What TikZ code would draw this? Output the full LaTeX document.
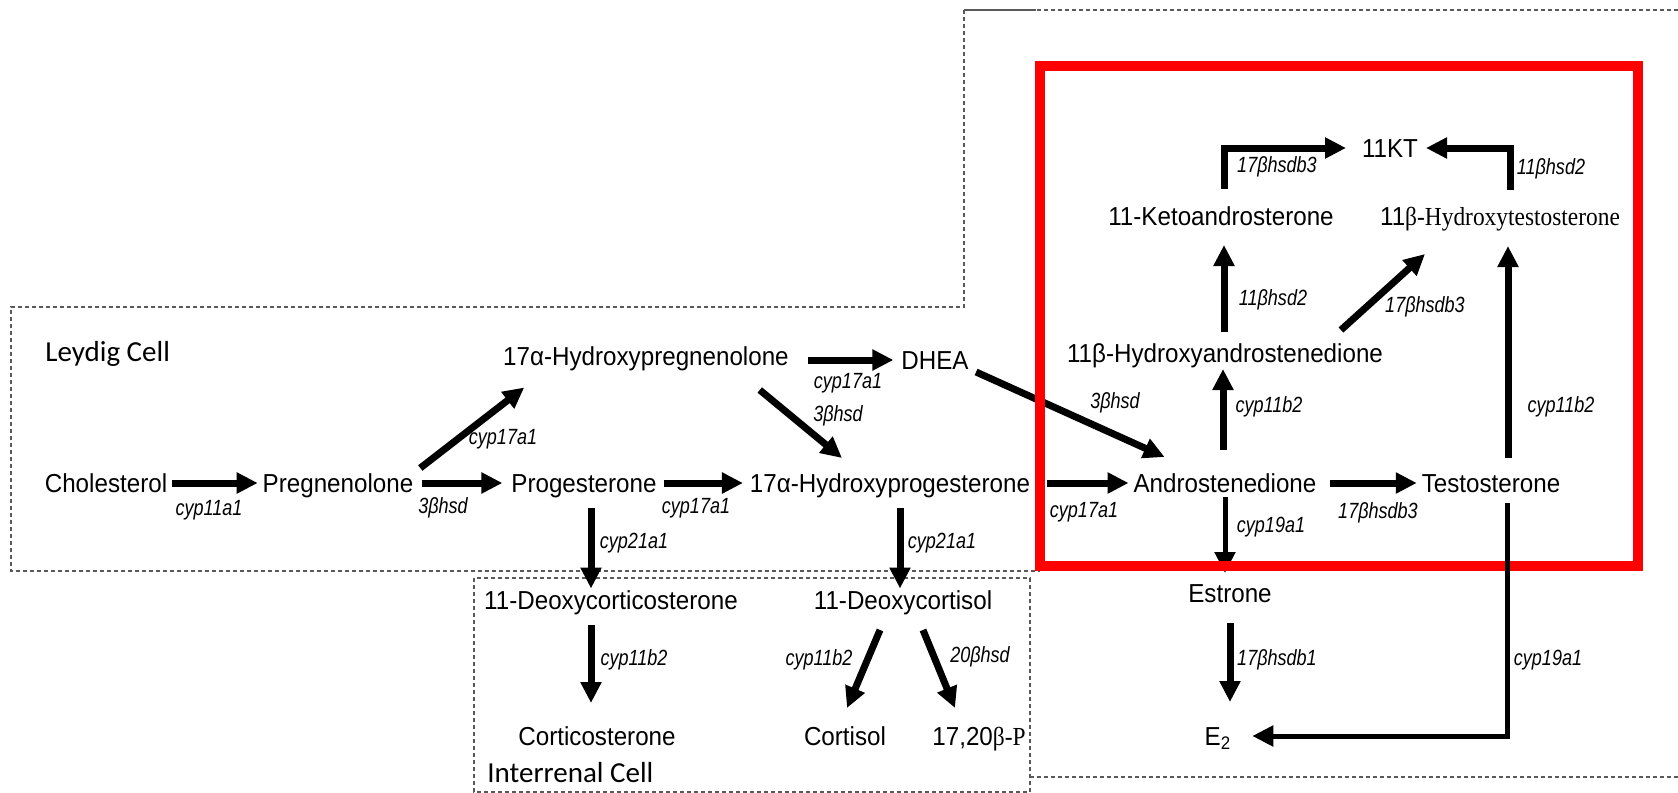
\documentclass[tikz,border=0pt]{standalone}
\usepackage{fontspec}
\setmainfont{Liberation Sans}[FakeStretch=0.93]
\newfontfamily\enzfont{Liberation Sans}[FakeStretch=0.82]
\newfontfamily\cellfont{Carlito}
\newfontfamily\timesfont{Liberation Serif}[FakeStretch=0.9]
\usetikzlibrary{arrows.meta}

\begin{document}
\begin{tikzpicture}[x=0.5pt, y=-0.5pt,
  mol/.style={inner sep=0pt, outer sep=0pt, text height=9.5pt, text depth=0pt,
    font=\fontsize{13pt}{15pt}\selectfont},
  enz/.style={inner sep=0pt, font=\enzfont\itshape\fontsize{11pt}{13pt}\selectfont},
  cell/.style={inner sep=0pt, font=\cellfont\fontsize{14.5pt}{17pt}\selectfont},
  arr/.style={line width=3.5pt, -{Triangle[length=10.5pt,width=10pt]}},
  thinarr/.style={line width=2.5pt, -{Triangle[length=10.5pt,width=10pt]}},
  border/.style={gray!70!black, line width=0.6pt, dash pattern=on 2pt off 1.5pt}]
\useasboundingbox (0,0) rectangle (1678,793);

% cell outlines
\draw[border] (1678,10) -- (964,10) -- (964,307) -- (11,307) -- (11,571) -- (1040,571);
\draw[gray!70!black, line width=0.8pt] (964,10) -- (1036,10);
\draw[border] (1030,777) -- (1678,777);
\draw[border] (474,578) rectangle (1030,792);

% molecules
\node[cell, anchor=west] (leydig) at (45,354) {Leydig Cell};
\node[cell, anchor=west] (interrenal) at (487,773) {Interrenal Cell};
\node[mol] (chol) at (106,483) {Cholesterol};
\node[mol] (preg) at (338,483) {Pregnenolone};
\node[mol] (prog) at (584,483) {Progesterone};
\node[mol] (ohprog) at (890,483) {17α-Hydroxyprogesterone};
\node[mol] (andro) at (1225,483) {Androstenedione};
\node[mol] (testo) at (1491,483) {Testosterone};
\node[mol] (ohpreg) at (646,356) {17α-Hydroxypregnenolone};
\node[mol] (dhea) at (935,360) {DHEA};
\node[mol] (ohandro) at (1225,353) {11β-Hydroxyandrostenedione};
\node[mol] (keto) at (1221,216) {11-Ketoandrosterone};
\node[mol] (ohtesto) at (1500,216) {11{\timesfont β-Hydroxytestosterone}};
\node[mol] (kt) at (1390,148) {11KT};
\node[mol] (doc) at (611,600) {11-Deoxycorticosterone};
\node[mol] (dcort) at (903,600) {11-Deoxycortisol};
\node[mol] (cortico) at (597,736) {Corticosterone};
\node[mol] (cortisol) at (845,736) {Cortisol};
\node[mol] (p1720) at (979,736) {17,20{\timesfont β-P}};
\node[mol] (estrone) at (1230,593) {Estrone};
\node[mol] (e2) at (1218,736) {E\textsubscript{2}};

% enzymes
\node[enz] (lchol) at (209,510) {cyp11a1};
\node[enz] (lpreg) at (443,508) {3βhsd};
\node[enz] (lpregoh) at (503,439) {cyp17a1};
\node[enz] (lprog) at (696,508) {cyp17a1};
\node[enz] (ldhea) at (848,383) {cyp17a1};
\node[enz] (lohpreg) at (838,416) {3βhsd};
\node[enz] (ldheaandro) at (1115,403) {3βhsd};
\node[enz] (lohprog) at (1084,512) {cyp17a1};
\node[enz] (landro) at (1378,513) {17βhsdb3};
\node[enz] (ldoc) at (634,543) {cyp21a1};
\node[enz] (ldcort) at (942,543) {cyp21a1};
\node[enz] (lcortico) at (634,660) {cyp11b2};
\node[enz] (lcortisol) at (819,660) {cyp11b2};
\node[enz] (lp) at (980,657) {20βhsd};
\node[enz] (lestrone) at (1271,527) {cyp19a1};
\node[enz] (le2) at (1277,660) {17βhsdb1};
\node[enz] (ltestoe2) at (1548,660) {cyp19a1};
\node[enz] (lohandro) at (1269,407) {cyp11b2};
\node[enz] (lketo) at (1273,300) {11βhsd2};
\node[enz] (lohtesto) at (1425,307) {17βhsdb3};
\node[enz] (ltesto) at (1561,407) {cyp11b2};
\node[enz] (lketokt) at (1277,167) {17βhsdb3};
\node[enz] (lohtestokt) at (1551,169) {11βhsd2};

% steps
\draw[arr, shorten <=2.5pt, shorten >=2.5pt] (chol) -- (preg);
\draw[arr, shorten <=4.5pt, shorten >=4.5pt] (preg) -- (prog);
\draw[arr, shorten <=3.5pt, shorten >=3.5pt] (prog) -- (ohprog);
\draw[arr, shorten <=8.5pt, shorten >=2.5pt] (ohprog) -- (andro);
\draw[arr, shorten <=7pt, shorten >=2.5pt] (andro) -- (testo);
\draw[arr, shorten <=9.5pt, shorten >=4pt] (ohpreg.east |- dhea) -- (dhea);
\draw[arr] ([shift={(7,-15)}]preg.east) -- ([shift={(21,22)}]ohpreg.south west);
\draw[arr] ([shift={(-29,24.5)}]ohpreg.south east) -- ([shift={(-48,-15.5)}]ohprog.north);
\draw[arr] ([shift={(7.5,12)}]dhea.east) -- ([shift={(31,-16.5)}]andro.north west);
\draw[arr] ([shift={(7,15.5)}]prog.south) -- ([shift={(-20,-2)}]doc.north);
\draw[arr] ([shift={(10,15.5)}]ohprog.south) -- ([shift={(-3,-2)}]dcort.north);
\draw[arr] ([shift={(-20,15.5)}]doc.south) -- ([shift={(-6,-23.5)}]cortico.north);
\draw[arr] ([shift={(-23,20.5)}]dcort.south) -- ([shift={(2,-18.5)}]cortisol.north);
\draw[arr] ([shift={(20,20.5)}]dcort.south) -- ([shift={(-24,-18.5)}]p1720.north);
\draw[thinarr] ([shift={(0,4.5)}]andro.south) -- ([shift={(-5,-10.5)}]estrone.north);
\draw[arr] ([shift={(0,20.5)}]estrone.south) -- ([shift={(12,-24.5)}]e2.north);
\draw[arr] ([shift={(-2,-23.5)}]andro.north) -- ([shift={(-2,6.5)}]ohandro.south);
\draw[arr] ([shift={(-1,-11.5)}]ohandro.north) -- ([shift={(3,19.5)}]keto.south);
\draw[arr] ([shift={(-42,-13.5)}]ohandro.north east) -- ([shift={(-75,28.5)}]ohtesto.south);
\draw[arr] ([shift={(17,-15.5)}]testo.north) -- ([shift={(8,20.5)}]ohtesto.south);
\draw[arr] ([shift={(3,-17.5)}]keto.north) |- ([xshift=-8pt]kt.west);
\draw[arr] ([shift={(10,-16.5)}]ohtesto.north) |- ([xshift=4pt]kt.east);

% red frame
\draw[red, line width=5pt] (1040,66) rectangle (1638,566);

\draw[thinarr] ([shift={(16,10.5)}]testo.south) |- ([xshift=10.5pt]e2.east);
\end{tikzpicture}
\end{document}
